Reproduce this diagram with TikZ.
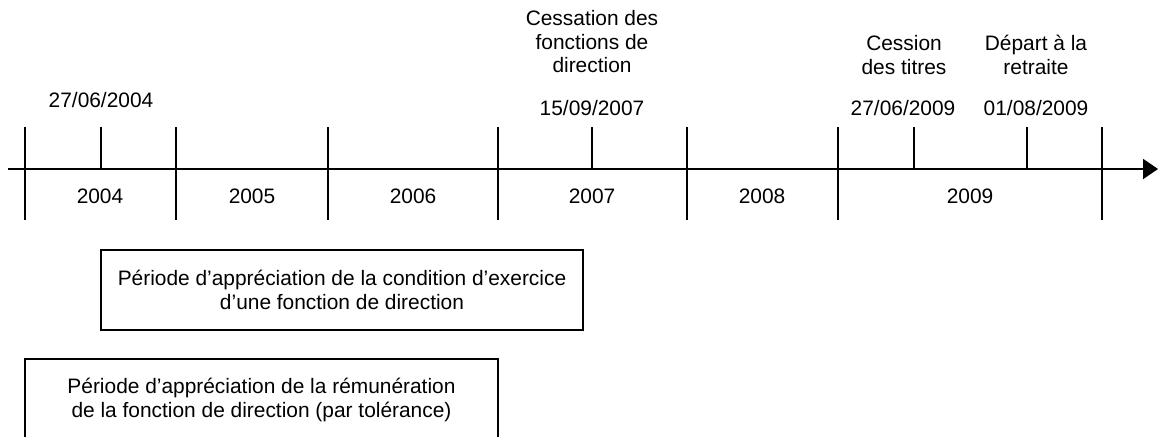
\documentclass[tikz,border=0pt]{standalone}
\usepackage{fontspec}
\setmainfont{Liberation Sans}
\usetikzlibrary{arrows.meta}
\begin{document}
\begin{tikzpicture}[x=1pt,y=-1pt,
  every node/.style={font=\fontsize{20.9}{23.5}\selectfont, inner sep=0pt, align=center},
  line/.style={line width=2pt},
  box/.style={draw, line width=2pt, minimum height=80pt}]
\useasboundingbox (0,0) rectangle (1158,436);
% axis
\coordinate (start) at (8,169);
\coordinate (end) at (1158,169);
\draw[line, -{Triangle[length=15pt,width=20pt]}] (start) -- (end);
% year boundaries
\foreach \n/\x in {a/25, b/176, c/328, d/498, e/687, f/838, g/1102} {
  \coordinate (\n top) at (\x,127);
  \coordinate (\n bot) at (\x,220);
  \draw[line] (\n top) -- (\n bot);
}
% event ticks
\foreach \n/\x in {p/101, q/592, r/914, s/1027} {
  \coordinate (\n top) at (\x,127);
  \coordinate (\n bot) at (\x,169);
  \draw[line] (\n top) -- (\n bot);
}
% year labels
\node (y2004) at (100,196) {2004};
\node (y2005) at (252,196) {2005};
\node (y2006) at (413,196) {2006};
\node (y2007) at (592,196) {2007};
\node (y2008) at (762,196) {2008};
\node (y2009) at (970,196) {2009};
% dates
\node (d1) at (101,100) {27/06/2004};
\node (d2) at (592,108) {15/09/2007};
\node (d3) at (903,108) {27/06/2009};
\node (d4) at (1036,108) {01/08/2009};
% event texts
\node (e2) at (592,42) {Cessation des\\fonctions de\\direction};
\node (e3) at (904,55) {Cession\\des titres};
\node (e4) at (1036,55) {Départ à la\\retraite};
% boxes
\node[box, minimum width=482pt] (box1) at (342,290) {Période d’appréciation de la condition d’exercice\\d’une fonction de direction};
\node[box, minimum width=473pt, minimum height=82pt] (box2) at (261.5,400) {Période d’appréciation de la rémunération\\de la fonction de direction (par tolérance)};
\end{tikzpicture}
\end{document}
